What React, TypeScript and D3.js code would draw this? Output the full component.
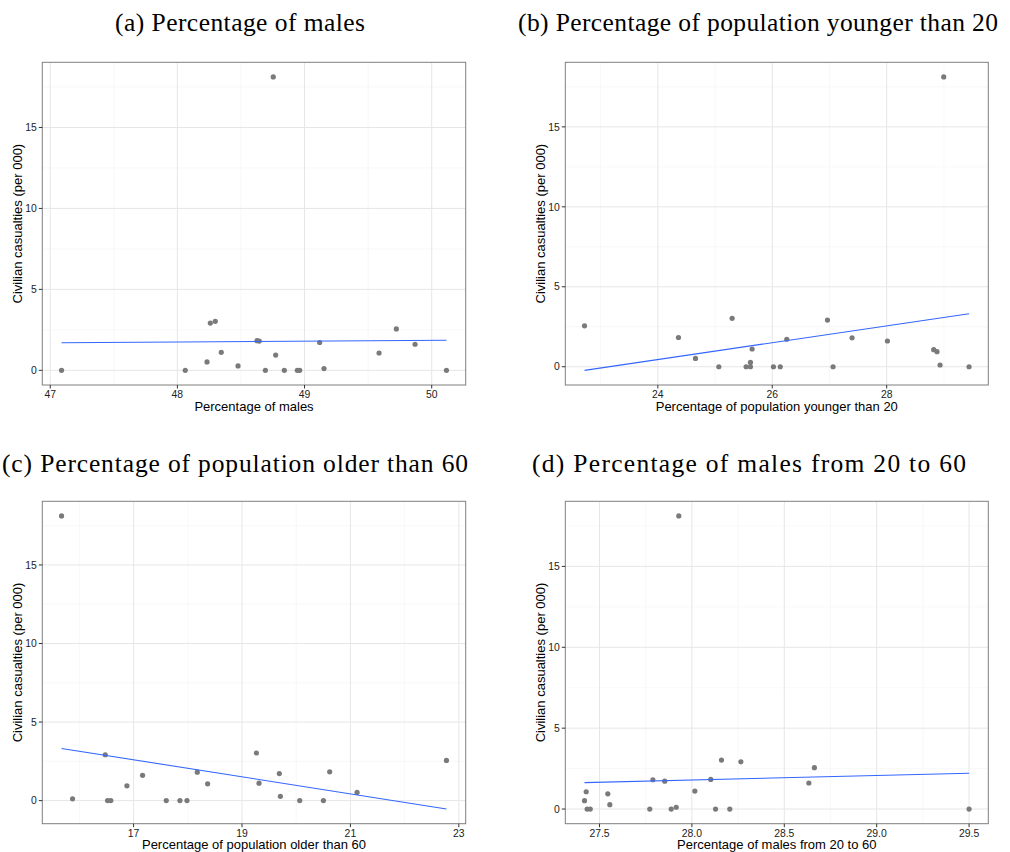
import React from "react";
import * as d3 from "d3";

// Civilian casualties (per 000), one per region
const casualties = [18.12, 3.03, 2.92, 2.56, 1.83, 1.81, 1.72, 1.61, 1.11, 1.07, 0.94, 0.52, 0.27, 0.11, 0, 0, 0, 0, 0, 0, 0];

// Explanatory variables (same region order as casualties)
const pctMales = [48.754, 48.298, 48.259, 49.722, 48.626, 48.644, 49.119, 49.869, 48.345, 49.586, 48.773, 48.233, 48.477, 49.153, 47.089, 48.062, 48.692, 48.841, 48.943, 48.962, 50.116];
const pctYoung = [28.997, 25.299, 26.965, 22.719, 24.361, 27.395, 26.254, 28.013, 25.648, 28.822, 28.88, 24.658, 25.619, 28.933, 25.066, 25.543, 25.619, 26.021, 26.14, 27.063, 29.44];
const pctOld = [15.671, 19.265, 16.477, 22.772, 20.618, 18.175, 19.689, 17.166, 19.314, 18.366, 16.877, 21.123, 19.708, 15.874, 16.52, 16.58, 17.603, 17.855, 17.985, 20.065, 20.502];
const pctMales2060 = [27.929, 28.16, 28.265, 28.663, 28.102, 27.789, 27.853, 28.633, 28.016, 27.428, 27.545, 27.419, 27.556, 27.915, 27.433, 27.45, 27.772, 27.888, 28.128, 28.205, 29.5];

// Tick values
const ticksMales = [47, 48, 49, 50];
const ticksYoung = [24, 26, 28];
const ticksOld = [17, 19, 21, 23];
const ticksMales2060 = [27.5, 28.0, 28.5, 29.0, 29.5];
const yTicks = [0, 5, 10, 15];
const yMinor = [2.5, 7.5, 12.5, 17.5];

const titles = [
  "(a) Percentage of males",
  "(b) Percentage of population younger than 20",
  "(c) Percentage of population older than 60",
  "(d) Percentage of males from 20 to 60",
];
const xLabels = [
  "Percentage of males",
  "Percentage of population younger than 20",
  "Percentage of population older than 60",
  "Percentage of males from 20 to 60",
];
const yLabel = "Civilian casualties (per 000)";

const SANS = "Liberation Sans, Arial, Helvetica, sans-serif";
const SERIF = "Liberation Serif, Times New Roman, serif";

type PanelSpec = {
  xs: number[];
  ticks: number[];
  fmt: (v: number) => string;
  title: string;
  xLabel: string;
  left: number;
  right: number;
  top: number;
  bottom: number;
  titleX: number;
  titleY: number;
  titleLen: number;
};

function expand([a, b]: [number, number]): [number, number] {
  const d = (b - a) * 0.05;
  return [a - d, b + d];
}

function Panel({ p }: { p: PanelSpec }) {
  const ys = casualties;
  const mx = d3.mean(p.xs)!;
  const my = d3.mean(ys)!;
  let sxy = 0, sxx = 0;
  p.xs.forEach((x, i) => {
    sxy += (x - mx) * (ys[i] - my);
    sxx += (x - mx) * (x - mx);
  });
  const slope = sxy / sxx;
  const intercept = my - slope * mx;
  const [xMin, xMax] = d3.extent(p.xs) as [number, number];
  const linePts: [number, number][] = [
    [xMin, intercept + slope * xMin],
    [xMax, intercept + slope * xMax],
  ];
  const yLo = Math.min(d3.min(ys)!, linePts[0][1], linePts[1][1]);
  const yHi = Math.max(d3.max(ys)!, linePts[0][1], linePts[1][1]);

  const x = d3.scaleLinear().domain(expand([xMin, xMax])).range([p.left, p.right]);
  const y = d3.scaleLinear().domain(expand([yLo, yHi])).range([p.bottom, p.top]);

  const step = p.ticks[1] - p.ticks[0];
  const [dx0, dx1] = x.domain();
  const xMinor: number[] = [];
  for (let v = p.ticks[0] - step / 2; v <= dx1; v += step) {
    if (v >= dx0) xMinor.push(v);
  }
  const [dy0, dy1] = y.domain();
  const yMin = yMinor.filter((v) => v >= dy0 && v <= dy1);

  const line = d3.line<[number, number]>().x((d) => x(d[0])).y((d) => y(d[1]));
  const midX = (p.left + p.right) / 2;
  const midY = (p.top + p.bottom) / 2;

  return (
    <g>
      <text x={p.titleX} y={p.titleY} textAnchor="middle" fontFamily={SERIF} fontSize={25.5}
        textLength={p.titleLen} lengthAdjust="spacing" fill="#000">
        {p.title}
      </text>
      <rect x={p.left} y={p.top} width={p.right - p.left} height={p.bottom - p.top} fill="#fff" />
      {xMinor.map((v) => (
        <line key={"xm" + v} x1={x(v)} x2={x(v)} y1={p.top} y2={p.bottom} stroke="#f3f3f3" strokeWidth={0.6} />
      ))}
      {yMin.map((v) => (
        <line key={"ym" + v} x1={p.left} x2={p.right} y1={y(v)} y2={y(v)} stroke="#f3f3f3" strokeWidth={0.6} />
      ))}
      {p.ticks.map((v) => (
        <line key={"xg" + v} x1={x(v)} x2={x(v)} y1={p.top} y2={p.bottom} stroke="#e6e6e6" strokeWidth={1} />
      ))}
      {yTicks.map((v) => (
        <line key={"yg" + v} x1={p.left} x2={p.right} y1={y(v)} y2={y(v)} stroke="#e6e6e6" strokeWidth={1} />
      ))}
      {p.xs.map((xv, i) => (
        <circle key={"pt" + i} cx={x(xv)} cy={y(ys[i])} r={2.6} fill="#7a7a7a" />
      ))}
      <path d={line(linePts)!} stroke="#3366FF" strokeWidth={1.1} fill="none" />
      <rect x={p.left} y={p.top} width={p.right - p.left} height={p.bottom - p.top} fill="none" stroke="#7f7f7f" strokeWidth={1} />
      {p.ticks.map((v) => (
        <g key={"xt" + v}>
          <line x1={x(v)} x2={x(v)} y1={p.bottom} y2={p.bottom + 3.5} stroke="#333" strokeWidth={1} />
          <text x={x(v)} y={p.bottom + 13} textAnchor="middle" fontFamily={SANS} fontSize={10.4} fill="#222">
            {p.fmt(v)}
          </text>
        </g>
      ))}
      {yTicks.map((v) => (
        <g key={"yt" + v}>
          <line x1={p.left - 3.5} x2={p.left} y1={y(v)} y2={y(v)} stroke="#333" strokeWidth={1} />
          <text x={p.left - 5.5} y={y(v) + 3.7} textAnchor="end" fontFamily={SANS} fontSize={10.4} fill="#222">
            {v}
          </text>
        </g>
      ))}
      <text x={midX} y={p.bottom + 25.5} textAnchor="middle" fontFamily={SANS} fontSize={13} fill="#000">
        {p.xLabel}
      </text>
      <text transform={`translate(${p.left - 20.5},${midY}) rotate(-90)`} textAnchor="middle"
        fontFamily={SANS} fontSize={13} fill="#000">
        {yLabel}
      </text>
    </g>
  );
}

export default function App() {
  const fmt0 = d3.format("d");
  const fmt1 = d3.format(".1f");
  const panels: PanelSpec[] = [
    { xs: pctMales, ticks: ticksMales, fmt: fmt0, title: titles[0], xLabel: xLabels[0],
      left: 42.3, right: 465.7, top: 62.3, bottom: 385, titleX: 240, titleY: 31, titleLen: 250 },
    { xs: pctYoung, ticks: ticksYoung, fmt: fmt0, title: titles[1], xLabel: xLabels[1],
      left: 565.3, right: 988.3, top: 62.3, bottom: 385, titleX: 758, titleY: 31, titleLen: 480 },
    { xs: pctOld, ticks: ticksOld, fmt: fmt0, title: titles[2], xLabel: xLabels[2],
      left: 42.3, right: 465.7, top: 501.3, bottom: 823.7, titleX: 235, titleY: 472, titleLen: 466 },
    { xs: pctMales2060, ticks: ticksMales2060, fmt: fmt1, title: titles[3], xLabel: xLabels[3],
      left: 565.3, right: 988.3, top: 501.3, bottom: 823.7, titleX: 749, titleY: 472, titleLen: 434 },
  ];
  return (
    <svg width={1010} height={852} style={{ position: "absolute", left: 0, top: 0, background: "#fff" }}>
      <rect width={1010} height={852} fill="#fff" />
      {panels.map((p, i) => (
        <Panel key={i} p={p} />
      ))}
    </svg>
  );
}
